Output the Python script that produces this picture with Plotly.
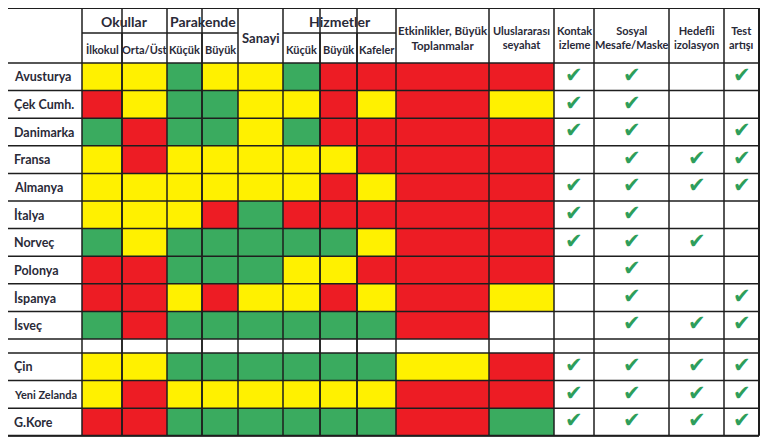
import plotly.graph_objects as go

# --- DATOS ---
ulkeler = ["Avusturya", "Çek Cumh.", "Danimarka", "Fransa", "Almanya", "İtalya", "Norveç",
           "Polonya", "İspanya", "İsveç", "Çin", "Yeni Zelanda", "G.Kore"]

# G = yeşil, Y = sarı, R = kırmızı, W = beyaz
ilkokul      = ["Y", "R", "G", "Y", "Y", "Y", "G", "R", "R", "G", "Y", "Y", "R"]
orta_ust     = ["Y", "Y", "R", "R", "Y", "Y", "Y", "R", "R", "R", "Y", "R", "R"]
par_kucuk    = ["G", "G", "G", "Y", "Y", "Y", "G", "G", "Y", "G", "G", "Y", "G"]
par_buyuk    = ["Y", "G", "G", "Y", "Y", "R", "G", "G", "R", "G", "G", "Y", "G"]
sanayi       = ["Y", "Y", "Y", "Y", "Y", "G", "G", "G", "Y", "G", "G", "Y", "G"]
hiz_kucuk    = ["G", "Y", "G", "Y", "Y", "R", "G", "Y", "Y", "G", "G", "Y", "G"]
hiz_buyuk    = ["R", "R", "R", "Y", "R", "R", "G", "Y", "R", "G", "G", "Y", "G"]
kafeler      = ["R", "Y", "R", "R", "Y", "R", "Y", "R", "Y", "G", "G", "Y", "G"]
etkinlikler  = ["R", "R", "R", "R", "R", "R", "R", "R", "R", "R", "Y", "R", "R"]
seyahat      = ["R", "Y", "R", "R", "R", "R", "R", "R", "Y", "W", "R", "R", "G"]

kontak_izleme = [1, 1, 1, 0, 1, 1, 1, 0, 0, 0, 1, 1, 1]
sosyal_mesafe = [1, 1, 1, 1, 1, 1, 1, 1, 1, 1, 1, 1, 1]
hedefli_izol  = [0, 0, 0, 1, 1, 0, 1, 0, 0, 1, 1, 1, 1]
test_artisi   = [1, 0, 1, 1, 1, 0, 0, 0, 1, 1, 1, 1, 1]

ust_basliklar = ["Okullar", "Parakende", "Hizmetler"]
alt_basliklar = ["İlkokul", "Orta/Üst", "Küçük", "Büyük", "Küçük", "Büyük", "Kafeler"]
tek_basliklar = ["Sanayi", "Etkinlikler, Büyük<br>Toplanmalar", "Uluslararası<br>seyahat",
                 "Kontak<br>izleme", "Sosyal<br>Mesafe/Maske", "Hedefli<br>izolasyon", "Test<br>artışı"]

# --- DÜZEN ---
W, H = 770, 439
OFF = 8  # sayfa gövdesinin kenar boşluğu
FONT = "Lato, Roboto, sans-serif"
TXT = "#2a2a38"
GRID = "#1e1e1e"
CHECK = "#2e9e5b"
COLORS = {"W": 0, "G": 1, "Y": 2, "R": 3}

x_edges = [7, 82, 122, 167, 202, 238, 283, 320, 357, 396, 489, 554, 594, 669, 724, 759]
y_top, y_mid, y_head = 8, 33, 63
row_h = 27.6
sep_h = 14
SEP_AFTER = 10  # boş satır İsveç'ten sonra

y_edges = [y_head]
for i in range(len(ulkeler)):
    if i == SEP_AFTER:
        y_edges.append(y_edges[-1] + sep_h)
    y_edges.append(y_edges[-1] + row_h)

row_centers = []
k = 0
for i in range(len(ulkeler)):
    if i == SEP_AFTER:
        k += 1
    row_centers.append((y_edges[k] + y_edges[k + 1]) / 2)
    k += 1

col_centers = [(x_edges[i] + x_edges[i + 1]) / 2 for i in range(len(x_edges) - 1)]

renk_kolonlari = [ilkokul, orta_ust, par_kucuk, par_buyuk, sanayi, hiz_kucuk,
                  hiz_buyuk, kafeler, etkinlikler, seyahat]
tik_kolonlari = [kontak_izleme, sosyal_mesafe, hedefli_izol, test_artisi]

z = []
for i in range(len(ulkeler)):
    if i == SEP_AFTER:
        z.append([0] * (len(x_edges) - 2))
    z.append([COLORS[c[i]] for c in renk_kolonlari] + [0] * len(tik_kolonlari))

colorscale = [[0, "#ffffff"], [1 / 6, "#ffffff"], [1 / 6, "#3aab5f"], [0.5, "#3aab5f"],
              [0.5, "#fff100"], [5 / 6, "#fff100"], [5 / 6, "#ed1c24"], [1, "#ed1c24"]]

fig = go.Figure()
fig.add_trace(go.Heatmap(x=x_edges[1:], y=y_edges, z=z, zmin=0, zmax=3,
                         colorscale=colorscale, showscale=False, hoverinfo="skip"))

# tikler
tx, ty = [], []
for j, kol in enumerate(tik_kolonlari):
    for i, v in enumerate(kol):
        if v:
            tx.append(col_centers[10 + j + 1])
            ty.append(row_centers[i])
fig.add_trace(go.Scatter(x=tx, y=ty, mode="text", text=["✔"] * len(tx),
                         textfont=dict(size=21, color=CHECK), hoverinfo="skip"))

# çizgiler
shapes = []
def line(x0, y0, x1, y1, w=1.5):
    shapes.append(dict(type="line", x0=x0, y0=y0, x1=x1, y1=y1,
                       line=dict(color=GRID, width=w), layer="above"))

y_bot = y_edges[-1]
for x in x_edges:
    w = 2 if x in (x_edges[0], x_edges[-1]) else 1.5
    line(x, y_top, x, y_bot, w)
for x in [x_edges[2], x_edges[4], x_edges[7], x_edges[8]]:
    line(x, y_mid, x, y_bot)
for y in y_edges:
    line(x_edges[0], y, x_edges[-1], y)
line(x_edges[0], y_top, x_edges[-1], y_top, 2)
line(x_edges[0], y_bot, x_edges[-1], y_bot, 2)
line(x_edges[1], y_mid, x_edges[5], y_mid)
line(x_edges[6], y_mid, x_edges[9], y_mid)

# metinler
ann = []
def txt(x, y, s, size=12, xanchor="center"):
    ann.append(dict(x=x, y=y, text=s, showarrow=False, xanchor=xanchor, yanchor="middle",
                    font=dict(family=FONT, size=size, color=TXT)))

for i, name in enumerate(ulkeler):
    fs = 11 if len(name) > 10 else 12.5
    txt(x_edges[0] + 5, row_centers[i], "<b>" + name + "</b>", fs, "left")

grup_araliklari = [(1, 3), (3, 5), (6, 9)]
for s, (a, b) in zip(ust_basliklar, grup_araliklari):
    txt((x_edges[a] + x_edges[b]) / 2, (y_top + y_mid) / 2 + 1, "<b>" + s + "</b>", 14)

alt_kolonlar = [1, 2, 3, 4, 6, 7, 8]
for s, c in zip(alt_basliklar, alt_kolonlar):
    txt(col_centers[c], (y_mid + y_head) / 2 + 1, "<b>" + s + "</b>", 11)

tek_kolonlar = [5, 9, 10, 11, 12, 13, 14]
tek_boyut = [13, 11.5, 11, 11, 11, 11, 11]
for s, c, fs in zip(tek_basliklar, tek_kolonlar, tek_boyut):
    txt(col_centers[c], (y_top + y_head) / 2 + 2, "<b>" + s + "</b>", fs)

fig.update_layout(
    width=W, height=H,
    margin=dict(l=0, r=0, t=0, b=0),
    paper_bgcolor="white", plot_bgcolor="white",
    xaxis=dict(range=[OFF, W + OFF], visible=False, fixedrange=True),
    yaxis=dict(range=[H + OFF, OFF], visible=False, fixedrange=True),
    shapes=shapes, annotations=ann, showlegend=False,
)

fig.write_html("out.html")
